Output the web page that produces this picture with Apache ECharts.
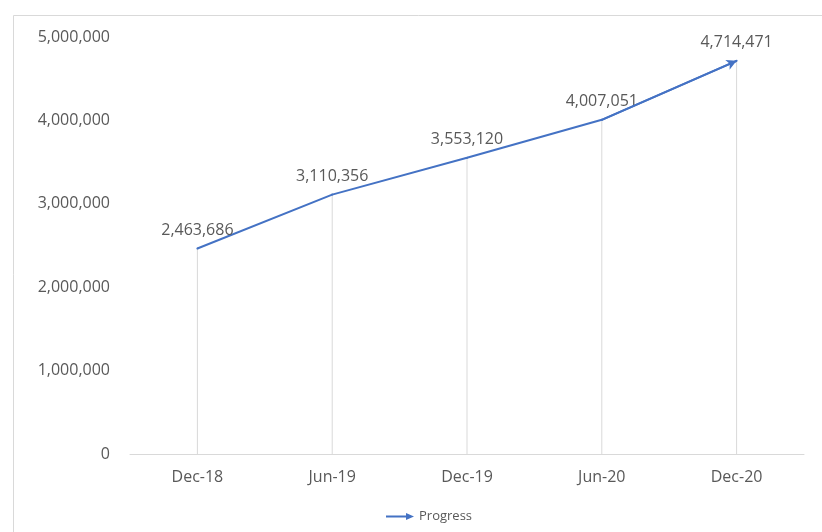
<!DOCTYPE html>
<html>
<head>
<meta charset="utf-8">
<script src="https://cdn.jsdelivr.net/npm/echarts@6/dist/echarts.min.js"></script>
<style>html,body{margin:0;padding:0;background:#fff;}#c{width:822px;height:532px;}</style>
</head>
<body>
<div id="c"></div>
<script>
const categories = ['Dec-18', 'Jun-19', 'Dec-19', 'Jun-20', 'Dec-20'];
const progress = [2463686, 3110356, 3553120, 4007051, 4714471];
const yTicks = { min: 0, max: 5000000, interval: 1000000 };
const seriesName = 'Progress';

const fmt = v => Number(v).toLocaleString('en-US');
const FONT = '"Open Sans", "Noto Sans", sans-serif';
const TXT = '#595959';
const BLUE = '#4472C4';
const n = categories.length;

const chart = echarts.init(document.getElementById('c'), null, { renderer: 'canvas' });
chart.setOption({
  animation: false,
  backgroundColor: '#fff',
  textStyle: { fontFamily: FONT },
  graphic: [{
    type: 'rect', left: 11, top: 13, silent: true,
    shape: { width: 900, height: 600 },
    style: { fill: 'none', stroke: '#d9d9d9', lineWidth: 1 }
  }],
  grid: { left: 130, right: 18, top: 37, bottom: 78, containLabel: false },
  legend: {
    data: [{ name: seriesName, icon: 'path://M0,3 L21,3 L21,5 L0,5 Z M20,0.5 L28,4 L20,7.5 Z' }],
    bottom: 4, left: 381,
    itemWidth: 28, itemHeight: 8, itemGap: 6,
    textStyle: { color: TXT, fontSize: 13, fontFamily: FONT }
  },
  xAxis: {
    type: 'category', data: categories, boundaryGap: true,
    axisLine: { show: true, lineStyle: { color: '#d9d9d9', width: 1 } },
    axisTick: { show: false },
    axisLabel: { color: TXT, fontSize: 16, margin: 15, fontFamily: FONT },
    splitLine: { show: false }
  },
  yAxis: {
    type: 'value', min: yTicks.min, max: yTicks.max, interval: yTicks.interval,
    axisLine: { show: false }, axisTick: { show: false }, splitLine: { show: false },
    axisLabel: { color: TXT, fontSize: 16, margin: 20, formatter: fmt, fontFamily: FONT }
  },
  series: [
    {
      name: 'drop', type: 'bar', data: progress, barWidth: 1, silent: true,
      itemStyle: { color: '#d9d9d9' }, z: 1, legendHoverLink: false
    },
    {
      name: seriesName, type: 'line', data: progress, z: 3,
      symbol: 'circle', symbolSize: 2, showSymbol: true,
      itemStyle: { color: BLUE },
      lineStyle: { color: BLUE, width: 2 },
      label: { show: true, position: 'top', distance: 9, color: TXT, fontSize: 16, fontFamily: FONT, formatter: p => fmt(p.value) },
      emphasis: { disabled: true },
      markLine: {
        silent: true, animation: false,
        symbol: ['none', 'arrow'], symbolSize: [8, 10],
        lineStyle: { color: BLUE, width: 2, type: 'solid' },
        label: { show: false },
        emphasis: { disabled: true },
        data: [[
          { coord: [categories[n - 2], progress[n - 2]] },
          { coord: [categories[n - 1], progress[n - 1]] }
        ]]
      }
    }
  ]
});
</script>
</body>
</html>
